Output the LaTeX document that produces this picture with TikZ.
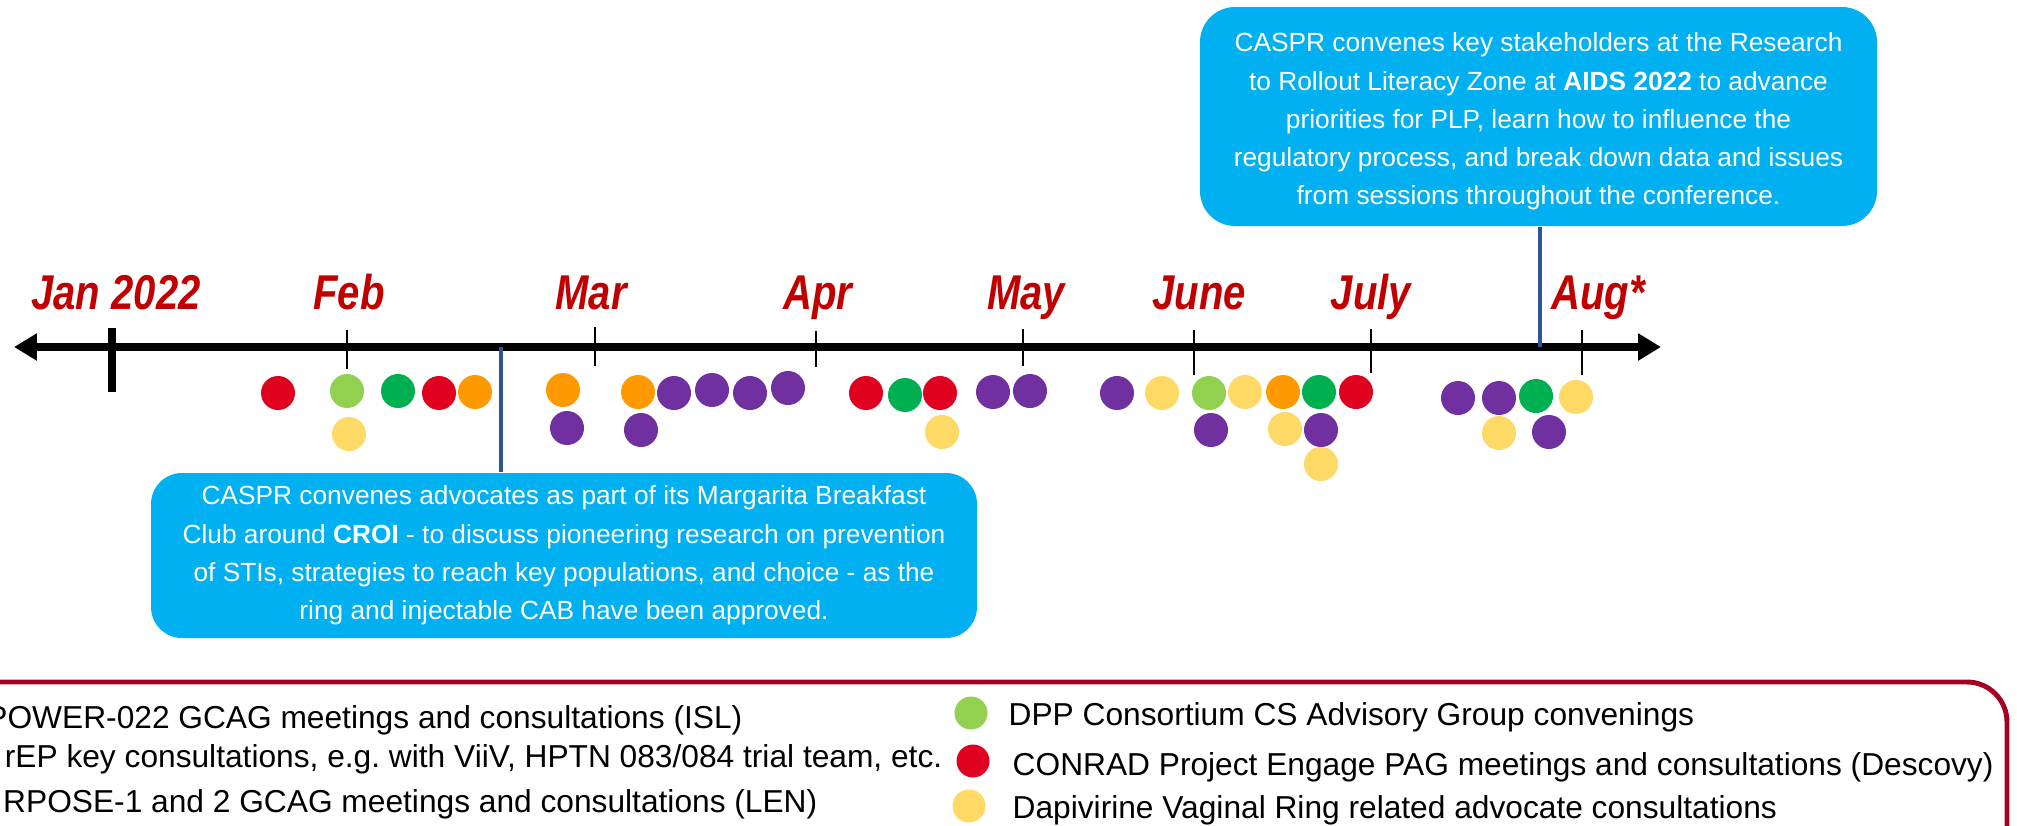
\documentclass[tikz,border=0pt]{standalone}
\usepackage{fontspec}
\setmainfont{Liberation Sans}
\newfontfamily\narrowfont[FakeStretch=0.82]{Liberation Sans}
\usetikzlibrary{arrows.meta}

\definecolor{monthred}{HTML}{C00000}
\definecolor{callblue}{HTML}{00B0F0}
\definecolor{linkblue}{HTML}{2F5597}
\definecolor{framered}{HTML}{A50021}
\definecolor{cred}{HTML}{E0001F}
\definecolor{cgreen}{HTML}{00B050}
\definecolor{clime}{HTML}{92D050}
\definecolor{corange}{HTML}{FF9900}
\definecolor{cpurple}{HTML}{7030A0}
\definecolor{cyellow}{HTML}{FFD966}

\begin{document}
\frenchspacing
\begin{tikzpicture}[
    month/.style={font=\narrowfont\bfseries\itshape\fontsize{13.9}{16}\selectfont, text=monthred, anchor=base},
    tick/.style={line width=0.8pt},
    callout/.style={fill=callblue, inner sep=0pt},
    callouttext/.style={text=white, align=center, inner sep=0pt, font=\fontsize{7.48}{10.88}\selectfont},
    link/.style={draw=linkblue, line width=1.1pt},
    legend/.style={font=\fontsize{9.02}{10}\selectfont, inner sep=0pt}
  ]
        \useasboundingbox (0,0) rectangle (20.17,-8.25);
        \clip (0,0) rectangle (20.17,-8.25);

        % legend frame, runs off the page
        \draw[framered, line width=1.4pt, rounded corners=0.4cm] (-1,-6.82) -- (20.07,-6.82) -- (20.07,-9.5);

        % time line
        \coordinate (tl) at (0.14,-3.47);
        \coordinate (tr) at (16.61,-3.47);
        \draw[line width=2.3pt, {Triangle[length=0.23cm,width=0.26cm]}-{Triangle[length=0.23cm,width=0.26cm]}] (tl) -- (tr);
        \draw[line width=2.3pt] (1.12,-3.28) -- (1.12,-3.92);
        \draw[tick] (3.47,-3.30) -- (3.47,-3.69);
        \draw[tick] (5.95,-3.27) -- (5.95,-3.66);
        \draw[tick] (8.16,-3.31) -- (8.16,-3.67);
        \draw[tick] (10.23,-3.29) -- (10.23,-3.66);
        \draw[tick] (11.94,-3.30) -- (11.94,-3.75);
        \draw[tick] (13.71,-3.29) -- (13.71,-3.73);
        \draw[tick] (15.82,-3.30) -- (15.82,-3.75);

        \node[month] (jan) at (1.16,-3.09) {Jan 2022};
        \node[month] (feb) at (3.49,-3.09) {Feb};
        \node[month] (mar) at (5.91,-3.09) {Mar};
        \node[month] (apr) at (8.18,-3.09) {Apr};
        \node[month] (may) at (10.26,-3.09) {May};
        \node[month] (jun) at (11.99,-3.09) {June};
        \node[month] (jul) at (13.71,-3.09) {July};
        \node[month] (aug) at (15.98,-3.09) {Aug*};

        % callouts
        \node[callout, rounded corners=0.35cm, minimum width=6.77cm, minimum height=2.19cm] (aidsbox) at (15.385,-1.165) {};
        \node[callouttext] (aidstext) at ([yshift=-0.05cm]aidsbox.center)
          {CASPR convenes key stakeholders at the Research\\
           to Rollout Literacy Zone at \textbf{AIDS 2022} to advance\\
           priorities for PLP, learn how to influence the\\
           regulatory process, and break down data and issues\\
           from sessions throughout the conference.};
        \node[callout, rounded corners=0.31cm, minimum width=8.26cm, minimum height=1.65cm] (croibox) at (5.64,-5.555) {};
        \node[callouttext] (croitext) at (croibox.center)
          {CASPR convenes advocates as part of its Margarita Breakfast\\
           Club around \textbf{CROI} - to discuss pioneering research on prevention\\
           of STIs, strategies to reach key populations, and choice - as the\\
           ring and injectable CAB have been approved.};
        \coordinate (aids) at (15.40,-3.47);
        \coordinate (croi) at (5.01,-3.47);
        \draw[link] (aids) -- (aids |- aidsbox.south);
        \draw[link] (croi) -- (croi |- croibox.north);

        % consultations
        \fill[cred] (2.78,-3.93) circle (0.17);
        \fill[clime] (3.47,-3.91) circle (0.17);
        \fill[cyellow] (3.49,-4.34) circle (0.17);
        \fill[cgreen] (3.98,-3.91) circle (0.17);
        \fill[cred] (4.39,-3.93) circle (0.17);
        \fill[corange] (4.75,-3.92) circle (0.17);
        \fill[corange] (5.63,-3.90) circle (0.17);
        \fill[cpurple] (5.67,-4.28) circle (0.17);
        \fill[corange] (6.38,-3.92) circle (0.17);
        \fill[cpurple] (6.41,-4.30) circle (0.17);
        \fill[cpurple] (6.74,-3.93) circle (0.17);
        \fill[cpurple] (7.12,-3.90) circle (0.17);
        \fill[cpurple] (7.50,-3.93) circle (0.17);
        \fill[cpurple] (7.88,-3.88) circle (0.17);
        \fill[cred] (8.66,-3.93) circle (0.17);
        \fill[cgreen] (9.05,-3.95) circle (0.17);
        \fill[cred] (9.40,-3.93) circle (0.17);
        \fill[cyellow] (9.42,-4.32) circle (0.17);
        \fill[cpurple] (9.93,-3.92) circle (0.17);
        \fill[cpurple] (10.30,-3.91) circle (0.17);
        \fill[cpurple] (11.17,-3.93) circle (0.17);
        \fill[cyellow] (11.62,-3.93) circle (0.17);
        \fill[clime] (12.09,-3.93) circle (0.17);
        \fill[cpurple] (12.11,-4.30) circle (0.17);
        \fill[cyellow] (12.45,-3.92) circle (0.17);
        \fill[corange] (12.83,-3.92) circle (0.17);
        \fill[cyellow] (12.85,-4.29) circle (0.17);
        \fill[cgreen] (13.19,-3.92) circle (0.17);
        \fill[cpurple] (13.21,-4.30) circle (0.17);
        \fill[cyellow] (13.21,-4.64) circle (0.17);
        \fill[cred] (13.56,-3.92) circle (0.17);
        \fill[cpurple] (14.58,-3.98) circle (0.17);
        \fill[cpurple] (14.99,-3.98) circle (0.17);
        \fill[cyellow] (14.99,-4.33) circle (0.17);
        \fill[cgreen] (15.36,-3.96) circle (0.17);
        \fill[cpurple] (15.49,-4.32) circle (0.17);
        \fill[cyellow] (15.76,-3.97) circle (0.17);

        % legend
        \node[legend, anchor=base east] (isl) at (7.43,-7.28) {POWER-022 GCAG meetings and consultations (ISL)};
        \node[legend, anchor=base east] (cab) at (9.43,-7.67) {rEP key consultations, e.g. with ViiV, HPTN 083/084 trial team, etc.};
        \node[legend, anchor=base east] (len) at (8.18,-8.12) {RPOSE-1 and 2 GCAG meetings and consultations (LEN)};
        \fill[clime] (9.71,-7.13) circle (0.165);
        \fill[cred] (9.73,-7.61) circle (0.165);
        \fill[cyellow] (9.69,-8.06) circle (0.165);
        \node[legend, anchor=base west] (dpp) at (10.08,-7.25) {DPP Consortium CS Advisory Group convenings};
        \node[legend, anchor=base west] (conrad) at (10.12,-7.75) {CONRAD Project Engage PAG meetings and consultations (Descovy)};
        \node[legend, anchor=base west] (dvr) at (10.12,-8.18) {Dapivirine Vaginal Ring related advocate consultations};
    \end{tikzpicture}
\end{document}
